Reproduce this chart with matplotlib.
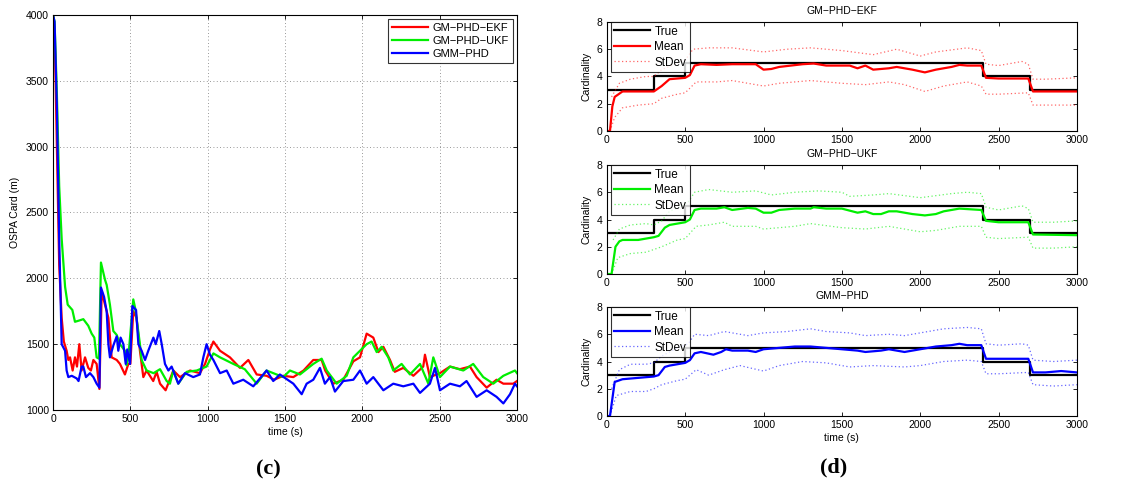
import numpy as np
import matplotlib
matplotlib.use("Agg")
import matplotlib.pyplot as plt

plt.rcParams['font.family'] = ['Liberation Sans', 'DejaVu Sans']

# ---- (c) OSPA cardinality error ----
t_ekf = [0, 10, 25, 40, 56, 70, 88, 99, 110, 127, 142, 155, 170, 185, 207, 228, 245, 261, 282, 300,
         315, 336, 358, 379, 412, 433, 465, 487, 500, 519, 540, 562, 584, 605, 648, 670, 692, 728, 778,
         821, 886, 950, 983, 1015, 1037, 1080, 1144, 1209, 1263, 1317, 1381, 1430, 1489, 1554, 1620,
         1683, 1737, 1760, 1812, 1877, 1942, 1985, 2028, 2071, 2104, 2136, 2179, 2210, 2265, 2330,
         2394, 2405, 2437, 2502, 2567, 2631, 2696, 2739, 2804, 2868, 2912, 2976, 3000]
ospa_ekf = [4000, 3900, 3000, 2100, 1700, 1520, 1450, 1380, 1400, 1300, 1400, 1330, 1500, 1300, 1400,
            1320, 1300, 1380, 1350, 1160, 1900, 1800, 1700, 1400, 1380, 1350, 1270, 1350, 1350, 1750,
            1700, 1450, 1250, 1300, 1220, 1290, 1200, 1150, 1300, 1250, 1300, 1280, 1350, 1460, 1520,
            1450, 1400, 1320, 1380, 1270, 1260, 1230, 1260, 1250, 1300, 1380, 1380, 1300, 1200, 1230,
            1370, 1400, 1580, 1550, 1440, 1480, 1380, 1290, 1320, 1260, 1330, 1420, 1250, 1280, 1330,
            1310, 1330, 1250, 1170, 1230, 1200, 1200, 1220]

t_ukf = [0, 10, 25, 40, 56, 78, 95, 110, 125, 142, 170, 196, 228, 250, 267, 282, 297, 310, 336, 347,
         368, 390, 412, 433, 465, 475, 487, 519, 530, 540, 562, 573, 605, 650, 692, 735, 756, 778, 810,
         864, 929, 993, 1037, 1080, 1166, 1240, 1317, 1381, 1489, 1532, 1597, 1683, 1737, 1770, 1834,
         1899, 1942, 1985, 2028, 2060, 2093, 2125, 2168, 2200, 2254, 2308, 2373, 2427, 2459, 2502,
         2567, 2653, 2717, 2782, 2847, 2912, 2987, 3000]
ospa_ukf = [4000, 3950, 3400, 2700, 2300, 1936, 1800, 1780, 1760, 1670, 1680, 1690, 1640, 1580, 1550,
            1400, 1390, 2120, 1990, 1950, 1800, 1600, 1570, 1500, 1450, 1340, 1400, 1840, 1780, 1700,
            1500, 1380, 1300, 1280, 1310, 1220, 1200, 1300, 1200, 1290, 1300, 1330, 1430, 1400, 1350,
            1310, 1200, 1300, 1250, 1300, 1270, 1350, 1390, 1300, 1200, 1260, 1400, 1450, 1500, 1520,
            1440, 1480, 1400, 1300, 1350, 1270, 1350, 1200, 1400, 1250, 1330, 1300, 1350, 1250, 1200,
            1260, 1300, 1280]

t_gmm = [0, 10, 25, 40, 56, 78, 88, 99, 121, 153, 165, 185, 196, 213, 239, 261, 282, 300, 310, 330,
         347, 358, 368, 390, 412, 422, 437, 455, 470, 480, 498, 513, 537, 552, 573, 595, 616, 649, 664,
         687, 703, 724, 746, 767, 810, 853, 907, 950, 972, 993, 1015, 1037, 1080, 1123, 1166, 1230,
         1295, 1381, 1424, 1467, 1554, 1608, 1640, 1683, 1726, 1758, 1791, 1823, 1877, 1942, 1985,
         2028, 2071, 2136, 2200, 2265, 2330, 2373, 2437, 2470, 2502, 2567, 2631, 2674, 2739, 2804,
         2868, 2912, 2955, 2987, 3000]
ospa_gmm = [4000, 3950, 3300, 2300, 1500, 1450, 1300, 1250, 1260, 1240, 1220, 1330, 1330, 1250, 1280,
            1250, 1200, 1170, 1930, 1860, 1750, 1500, 1400, 1490, 1560, 1450, 1550, 1500, 1350, 1460,
            1350, 1790, 1760, 1500, 1450, 1380, 1450, 1550, 1500, 1600, 1500, 1350, 1300, 1330, 1200,
            1280, 1250, 1270, 1400, 1500, 1420, 1380, 1280, 1300, 1200, 1230, 1180, 1300, 1220, 1270,
            1200, 1120, 1200, 1230, 1320, 1200, 1250, 1140, 1220, 1230, 1300, 1200, 1250, 1150, 1200,
            1180, 1200, 1130, 1200, 1320, 1150, 1200, 1180, 1220, 1100, 1150, 1100, 1050, 1120, 1200,
            1180]

# ---- (d) cardinality estimates ----
t_true = [0, 300, 500, 2400, 2700, 3000]
n_true = [3, 4, 5, 4, 3, 3]

t_mean_ekf = [10, 20, 35, 50, 100, 200, 300, 350, 400, 500, 530, 560, 600, 700, 800, 950, 1000, 1050,
              1100, 1250, 1320, 1400, 1550, 1600, 1650, 1700, 1800, 1850, 1950, 2030, 2100, 2200,
              2250, 2300, 2390, 2420, 2500, 2690, 2720, 3000]
mean_ekf = [0, 0, 1.8, 2.5, 2.9, 2.9, 2.9, 3.3, 3.8, 3.9, 4.1, 4.8, 4.9, 4.85, 4.9, 4.9, 4.5, 4.55,
            4.7, 4.9, 4.95, 4.8, 4.8, 4.6, 4.8, 4.5, 4.6, 4.7, 4.5, 4.3, 4.5, 4.7, 4.85, 4.8, 4.8,
            3.9, 3.85, 3.85, 2.9, 2.9]
t_up_ekf = [30, 80, 150, 250, 300, 350, 450, 500, 550, 650, 800, 1000, 1150, 1300, 1500, 1700, 1850,
            2000, 2100, 2300, 2390, 2420, 2500, 2600, 2650, 2690, 2720, 2800, 3000]
up_ekf = [2.5, 3.5, 3.8, 4.0, 4.0, 4.5, 5.0, 5.2, 6.0, 6.1, 6.1, 5.8, 6.0, 6.1, 5.9, 5.6, 6.0, 5.5,
          5.8, 6.1, 5.9, 4.9, 4.8, 5.0, 5.1, 4.9, 3.8, 3.8, 3.9]
t_lo_ekf = [20, 50, 100, 200, 300, 350, 450, 500, 570, 700, 800, 1000, 1100, 1300, 1500, 1650, 1800,
            1900, 2030, 2150, 2300, 2390, 2420, 2500, 2690, 2720, 3000]
lo_ekf = [0, 1.0, 1.7, 1.9, 2.0, 2.4, 2.7, 2.8, 3.6, 3.6, 3.7, 3.3, 3.5, 3.7, 3.5, 3.4, 3.6, 3.4, 2.9,
          3.3, 3.6, 3.3, 2.7, 2.7, 2.8, 1.9, 1.9]

t_mean_ukf = [10, 30, 55, 80, 100, 200, 250, 300, 330, 370, 400, 450, 500, 530, 560, 600, 700, 750,
              800, 900, 950, 1000, 1050, 1100, 1200, 1300, 1320, 1400, 1500, 1600, 1650, 1700, 1750,
              1800, 1850, 1950, 2030, 2100, 2150, 2250, 2390, 2420, 2500, 2690, 2720, 3000]
mean_ukf = [0, 0, 2.0, 2.4, 2.5, 2.5, 2.6, 2.7, 2.8, 3.4, 3.6, 3.7, 3.8, 4.0, 4.7, 4.8, 4.8, 4.9, 4.7,
            4.85, 4.8, 4.5, 4.5, 4.7, 4.8, 4.8, 4.9, 4.8, 4.8, 4.5, 4.6, 4.4, 4.4, 4.6, 4.6, 4.4, 4.3,
            4.4, 4.6, 4.8, 4.7, 3.9, 3.8, 3.8, 2.9, 2.85]
t_up_ukf = [40, 80, 150, 250, 300, 350, 400, 480, 520, 560, 650, 800, 950, 1050, 1200, 1350, 1500,
            1550, 1700, 1800, 2000, 2200, 2300, 2390, 2420, 2500, 2600, 2650, 2690, 2720, 2850, 3000]
up_ukf = [2.5, 3.3, 3.6, 3.7, 3.6, 3.9, 4.6, 5.0, 5.3, 6.0, 6.2, 6.0, 6.1, 5.8, 6.0, 6.1, 6.0, 5.7,
          5.8, 5.9, 5.6, 5.9, 6.0, 5.9, 4.9, 4.7, 4.9, 5.0, 4.8, 3.8, 3.8, 3.9]
t_lo_ukf = [30, 70, 150, 250, 300, 350, 450, 500, 570, 650, 750, 800, 950, 1000, 1200, 1300, 1500,
            1650, 1800, 2000, 2100, 2250, 2390, 2420, 2500, 2690, 2720, 2850, 3000]
lo_ukf = [0, 1.2, 1.5, 1.6, 1.8, 2.0, 2.5, 2.6, 3.5, 3.6, 3.8, 3.5, 3.5, 3.3, 3.5, 3.7, 3.4, 3.3,
          3.5, 3.1, 3.2, 3.5, 3.5, 2.7, 2.6, 2.7, 1.9, 1.9, 2.0]

t_mean_gmm = [10, 20, 50, 100, 200, 300, 330, 370, 400, 450, 500, 530, 560, 600, 680, 730, 760, 800,
              900, 950, 1000, 1100, 1200, 1300, 1400, 1500, 1600, 1650, 1750, 1800, 1900, 2000, 2100,
              2200, 2250, 2300, 2390, 2420, 2500, 2690, 2720, 2800, 2900, 3000]
mean_gmm = [0, 0, 2.5, 2.7, 2.8, 2.9, 3.0, 3.6, 3.7, 3.8, 3.9, 4.1, 4.6, 4.7, 4.5, 4.7, 4.9, 4.8,
            4.8, 4.7, 4.9, 5.0, 5.1, 5.1, 5.0, 4.9, 4.8, 4.7, 4.8, 4.9, 4.7, 4.9, 5.1, 5.2, 5.3, 5.2,
            5.2, 4.2, 4.2, 4.2, 3.2, 3.2, 3.3, 3.2]
t_up_gmm = [30, 80, 150, 250, 300, 350, 450, 520, 560, 650, 750, 900, 1000, 1150, 1300, 1400, 1550,
            1650, 1800, 1900, 2050, 2150, 2300, 2390, 2420, 2500, 2650, 2690, 2720, 2850, 3000]
up_gmm = [2.0, 3.4, 3.8, 3.8, 3.9, 4.4, 5.0, 5.3, 6.0, 5.9, 6.2, 5.9, 6.1, 6.2, 6.4, 6.2, 6.1, 5.9,
          6.0, 5.9, 6.2, 6.4, 6.5, 6.4, 5.3, 5.2, 5.3, 5.2, 4.1, 4.0, 4.1]
t_lo_gmm = [20, 60, 150, 250, 300, 350, 450, 500, 570, 650, 750, 850, 1000, 1100, 1250, 1400, 1550,
            1700, 1900, 2000, 2150, 2300, 2390, 2420, 2500, 2690, 2720, 2850, 3000]
lo_gmm = [0, 1.5, 1.8, 1.8, 2.0, 2.3, 2.6, 2.7, 3.4, 3.0, 3.4, 3.7, 3.3, 3.7, 4.0, 3.9, 3.6, 3.7,
          3.6, 3.7, 4.0, 4.1, 4.0, 3.1, 3.1, 3.2, 2.3, 2.2, 2.3]

series_names = ['GM\u2212PHD\u2212EKF', 'GM\u2212PHD\u2212UKF', 'GMM\u2212PHD']
colors = ['#ff0000', '#00ee00', '#0000ff']

fig = plt.figure(figsize=(11.45, 4.88), dpi=100)


def matlab_axes(ax):
    ax.tick_params(direction='in', top=True, right=True, labelsize=7.5, length=3, width=0.6, pad=3)
    for s in ax.spines.values():
        s.set_linewidth(0.8)


# left panel
ax = fig.add_axes([0.0463, 0.1598, 0.4052, 0.8095])
ax.plot(t_ekf, ospa_ekf, color=colors[0], lw=1.6, label=series_names[0])
ax.plot(t_ukf, ospa_ukf, color=colors[1], lw=1.6, label=series_names[1])
ax.plot(t_gmm, ospa_gmm, color=colors[2], lw=1.6, label=series_names[2])
ax.set_xlim(0, 3000)
ax.set_ylim(1000, 4000)
ax.set_xticks(range(0, 3001, 500))
ax.set_yticks(range(1000, 4001, 500))
ax.grid(True, linestyle=(0, (1, 3)), color='#777777', linewidth=0.6)
ax.set_xlabel('time (s)', fontsize=7.5, labelpad=2)
ax.set_ylabel('OSPA Card (m)', fontsize=7.5, labelpad=4)
matlab_axes(ax)
leg = ax.legend(loc='upper right', fontsize=8, fancybox=False, edgecolor='black',
                borderpad=0.35, handlelength=3.2, labelspacing=0.25, borderaxespad=0.4,
                handletextpad=0.4)
leg.get_frame().set_linewidth(0.8)
fig.text(0.234, 0.037, '(c)', fontsize=16, fontweight='bold', family='Liberation Serif',
         ha='center', va='center')

# right panels
panels = [
    (0.7316, t_mean_ekf, mean_ekf, t_up_ekf, up_ekf, t_lo_ekf, lo_ekf),
    (0.4385, t_mean_ukf, mean_ukf, t_up_ukf, up_ukf, t_lo_ukf, lo_ukf),
    (0.1475, t_mean_gmm, mean_gmm, t_up_gmm, up_gmm, t_lo_gmm, lo_gmm),
]
for i, (bottom, tm, m, tu, u, tl, lo) in enumerate(panels):
    a = fig.add_axes([0.530, bottom, 0.4105, 0.2234])
    a.step(t_true, n_true, where='post', color='black', lw=1.6, label='True')
    a.plot(tm, m, color=colors[i], lw=1.6, label='Mean')
    a.plot(tu, u, color=colors[i], lw=0.9, linestyle=(0, (1, 2)), alpha=0.6, label='StDev')
    a.plot(tl, lo, color=colors[i], lw=0.9, linestyle=(0, (1, 2)), alpha=0.6)
    a.set_xlim(0, 3000)
    a.set_ylim(0, 8)
    a.set_xticks(range(0, 3001, 500))
    a.set_yticks(range(0, 9, 2))
    a.set_ylabel('Cardinality', fontsize=7.5, labelpad=4)
    a.set_title(series_names[i], fontsize=7.5, pad=6)
    matlab_axes(a)
    lg = a.legend(loc='upper left', fontsize=8.5, fancybox=False, edgecolor='black',
                  borderpad=0.3, handlelength=3.0, labelspacing=0.3, borderaxespad=0.0,
                  handletextpad=0.4, bbox_to_anchor=(0.008, 1.0))
    lg.get_frame().set_linewidth(0.8)
    if i == 2:
        a.set_xlabel('time (s)', fontsize=7.5, labelpad=2)

fig.text(0.728, 0.043, '(d)', fontsize=16, fontweight='bold', family='Liberation Serif',
         ha='center', va='center')

fig.savefig('out.png', dpi=100)
